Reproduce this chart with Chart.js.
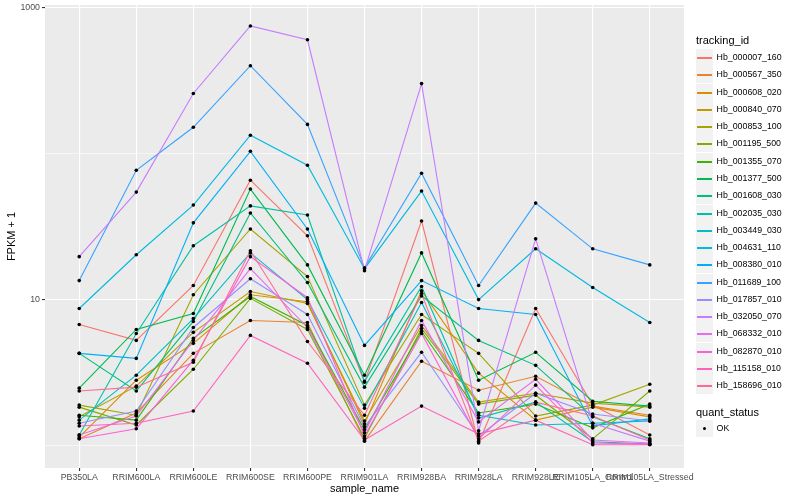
<!DOCTYPE html>
<html>
<head>
<meta charset="utf-8">
<script src="https://cdn.jsdelivr.net/npm/chart.js@4.4.0/dist/chart.umd.min.js"></script>
<style>
  body { margin: 0; background: #fff; }
  #wrap { position: relative; width: 800px; height: 500px; font-family: "Liberation Sans", Arial, sans-serif; }
  #legend { position: absolute; left: 696px; top: 0; width: 104px; height: 500px; }
  .ttl { position: absolute; left: 0; font-size: 11px; line-height: 13px; color: #000; white-space: nowrap; }
  .row { position: absolute; left: 0; height: 17px; width: 104px; }
  .key { position: absolute; left: 0; top: 0; width: 17px; height: 17px; background: #f2f2f2; }
  .key i { position: absolute; left: 1px; width: 15px; top: 8px; height: 1.5px; }
  .key b { position: absolute; left: 7px; top: 7px; width: 3.4px; height: 3.4px; border-radius: 50%; background: #000; }
  .lab { position: absolute; left: 20.6px; top: 0; line-height: 17px; font-size: 8.8px; color: #000; white-space: nowrap; }
</style>
</head>
<body>
<div id="wrap">
  <canvas id="fpkm" width="800" height="500"></canvas>
  <div id="legend"></div>
</div>
<script>
// samples on the x axis
var samples = ["PB350LA", "RRIM600LA", "RRIM600LE", "RRIM600SE", "RRIM600PE", "RRIM901LA",
    "RRIM928BA", "RRIM928LA", "RRIM928LE", "RRIM105LA_Control", "RRIM105LA_Stressed"];

var trackingIds = ["Hb_000007_160", "Hb_000567_350", "Hb_000608_020", "Hb_000840_070", "Hb_000853_100",
    "Hb_001195_500", "Hb_001355_070", "Hb_001377_500", "Hb_001608_030", "Hb_002035_030",
    "Hb_003449_030", "Hb_004631_110", "Hb_008380_010", "Hb_011689_100", "Hb_017857_010",
    "Hb_032050_070", "Hb_068332_010", "Hb_082870_010", "Hb_115158_010", "Hb_158696_010"];

var colors = ["#F8766D", "#EA8331", "#D89000", "#C09B00", "#A3A500", "#7CAE00", "#39B600", "#00BB4E",
    "#00BF7D", "#00C1A3", "#00BFC4", "#00BAE0", "#00B0F6", "#35A2FF", "#9590FF", "#C77CFF",
    "#E76BF3", "#FA62DB", "#FF62BC", "#FF6C91"];

// FPKM + 1 per sample
var hb_000007_160 = [6.75, 5.25, 12.5, 65.9, 27.4, 2.71, 34.6, 1.04, 8.69, 1.89, 1.18];
var hb_000567_350 = [1.11, 1.67, 4.28, 7.19, 6.97, 1.07, 3.78, 2.39, 2.98, 1.86, 1.61];
var hb_000608_020 = [1.14, 2.80, 5.01, 10.8, 9.68, 1.40, 11.5, 3.13, 1.49, 1.83, 1.57];
var hb_000840_070 = [1.57, 2.55, 5.96, 11.35, 9.40, 1.47, 6.65, 1.98, 2.28, 1.95, 1.83];
var hb_000853_100 = [1.89, 1.61, 10.8, 30.5, 14.4, 1.89, 7.91, 4.28, 1.59, 1.89, 2.63];
var hb_001195_500 = [1.83, 1.38, 3.33, 10.2, 6.24, 1.12, 6.34, 1.92, 2.21, 1.11, 2.36];
var hb_001355_070 = [1.61, 1.49, 5.42, 10.5, 6.65, 1.28, 6.05, 1.67, 1.92, 1.32, 1.92];
var hb_001377_500 = [2.47, 6.24, 8.02, 57.3, 17.3, 3.03, 20.9, 2.80, 4.35, 2.01, 1.86];
var hb_001608_030 = [4.28, 2.36, 7.08, 39.3, 13.1, 2.51, 10.6, 5.25, 3.54, 1.57, 1.11];
var hb_002035_030 = [1.18, 5.86, 23.4, 43.9, 38.0, 2.75, 12.3, 1.54, 1.98, 1.06, 1.02];
var hb_003449_030 = [1.49, 3.03, 7.41, 20.9, 10.0, 1.80, 9.55, 1.61, 1.38, 1.42, 1.47];
var hb_004631_110 = [8.69, 20.3, 44.5, 134, 83.5, 16.3, 55.5, 10.0, 22.3, 12.1, 6.97];
var hb_008380_010 = [4.28, 3.95, 33.6, 104, 30.5, 4.85, 13.5, 8.69, 7.91, 1.36, 1.52];
var hb_011689_100 = [13.5, 77.1, 152, 402, 159, 16.5, 73.6, 12.5, 45.9, 22.3, 17.3];
var hb_017857_010 = [1.42, 1.72, 6.44, 13.9, 7.91, 1.34, 4.35, 1.16, 2.28, 1.64, 1.47];
var hb_032050_070 = [19.7, 54.6, 259, 753, 605, 15.8, 303, 1.26, 26.1, 1.42, 1.07];
var hb_068332_010 = [1.18, 1.59, 5.25, 16.3, 6.44, 1.22, 7.19, 1.45, 2.84, 1.09, 1.04];
var hb_082870_010 = [1.11, 1.30, 3.84, 19.7, 10.3, 1.16, 5.86, 1.11, 2.59, 1.04, 1.02];
var hb_115158_010 = [1.36, 1.42, 1.72, 5.68, 3.66, 1.09, 1.86, 1.20, 1.49, 1.01, 1.01];
var hb_158696_010 = [2.36, 2.51, 3.72, 21.6, 5.16, 1.61, 11.0, 1.07, 1.98, 1.59, 1.09];

var seriesValues = [hb_000007_160, hb_000567_350, hb_000608_020, hb_000840_070, hb_000853_100,
    hb_001195_500, hb_001355_070, hb_001377_500, hb_001608_030, hb_002035_030,
    hb_003449_030, hb_004631_110, hb_008380_010, hb_011689_100, hb_017857_010,
    hb_032050_070, hb_068332_010, hb_082870_010, hb_115158_010, hb_158696_010];

// y grid: labelled breaks and the minor ones in between
var yGrid = [1, 10, 100, 1000];
var yLabels = [10, 1000];

var FONT = "'Liberation Sans', Arial, sans-serif";

var datasets = seriesValues.map(function (vals, k) {
    return {
        label: trackingIds[k],
        data: vals.map(function (v, i) { return { x: i, y: v }; }),
        borderColor: colors[k],
        borderWidth: 1.1,
        pointRadius: 0,
        fill: false,
        tension: 0,
        order: seriesValues.length - k
    };
});

// points over every line, like geom_point after geom_line
datasets.push({
    type: "scatter",
    label: "OK",
    data: seriesValues.flatMap(function (vals) {
        return vals.map(function (v, i) { return { x: i, y: v }; });
    }),
    pointRadius: 1.8,
    pointBackgroundColor: "#000",
    pointBorderWidth: 0,
    showLine: false,
    order: 0
});

var panelBg = {
    id: "panelBg",
    beforeDraw: function (chart) {
        var a = chart.chartArea, c = chart.ctx;
        c.save();
        c.fillStyle = "#EBEBEB";
        c.fillRect(a.left, a.top, a.right - a.left, a.bottom - a.top);
        c.restore();
    }
};

var ctx = document.getElementById("fpkm");
var fpkmChart = new Chart(ctx, {
    type: "line",
    data: { datasets: datasets },
    plugins: [panelBg],
    options: {
        responsive: false,
        animation: false,
        layout: { padding: { top: 5, right: 116, left: 0, bottom: 0 } },
        plugins: { legend: { display: false }, tooltip: { enabled: false } },
        scales: {
            x: {
                type: "linear",
                min: -0.6,
                max: 10.6,
                afterBuildTicks: function (s) {
                    s.ticks = samples.map(function (_, i) { return { value: i }; });
                },
                afterFit: function (s) { s.height = 32; s.paddingLeft = 0; s.paddingRight = 0; },
                border: { display: false },
                grid: { color: "#fff", lineWidth: 1.1, tickLength: 3, tickColor: "#333", tickWidth: 1.1 },
                ticks: {
                    autoSkip: false, maxRotation: 0, minRotation: 0, padding: 1,
                    color: "#4D4D4D", font: { size: 8.8, family: FONT },
                    callback: function (v) { return samples[v]; }
                },
                title: {
                    display: true, text: "sample_name", color: "#000",
                    font: { size: 11, family: FONT }, padding: { top: 0, bottom: 4.4 }
                }
            },
            y: {
                type: "logarithmic",
                min: 0.724,
                max: 1048,
                afterBuildTicks: function (s) {
                    s.ticks = yGrid.map(function (v) { return { value: v }; });
                },
                afterFit: function (s) { s.width = 45; s.paddingTop = 0; s.paddingBottom = 0; },
                border: { display: false },
                grid: {
                    color: "#fff",
                    lineWidth: function (c) { return yLabels.indexOf(c.tick.value) >= 0 ? 1.1 : 0.55; },
                    tickLength: 3,
                    tickWidth: 1.1,
                    tickColor: function (c) { return yLabels.indexOf(c.tick.value) >= 0 ? "#333" : "rgba(0,0,0,0)"; }
                },
                ticks: {
                    padding: 2, color: "#4D4D4D", font: { size: 8.8, family: FONT },
                    callback: function (v) { return yLabels.indexOf(v) >= 0 ? String(v) : ""; }
                },
                title: {
                    display: true, text: "FPKM + 1", color: "#000",
                    font: { size: 11, family: FONT }, padding: { top: 5.5, bottom: 0 }
                }
            }
        }
    }
});

// legend in the ggplot layout: tracking_id keys, then quant_status
var legend = document.getElementById("legend");
var html = '<div class="ttl" style="top:34px">tracking_id</div>';
trackingIds.forEach(function (id, k) {
    var top = Math.round(49 + k * 17.28);
    html += '<div class="row" style="top:' + top + 'px"><div class="key"><i style="background:' + colors[k] +
        '"></i></div><div class="lab">' + id + '</div></div>';
});
html += '<div class="ttl" style="top:406px">quant_status</div>';
html += '<div class="row" style="top:420px"><div class="key"><b></b></div><div class="lab">OK</div></div>';
legend.innerHTML = html;
</script>
</body>
</html>
